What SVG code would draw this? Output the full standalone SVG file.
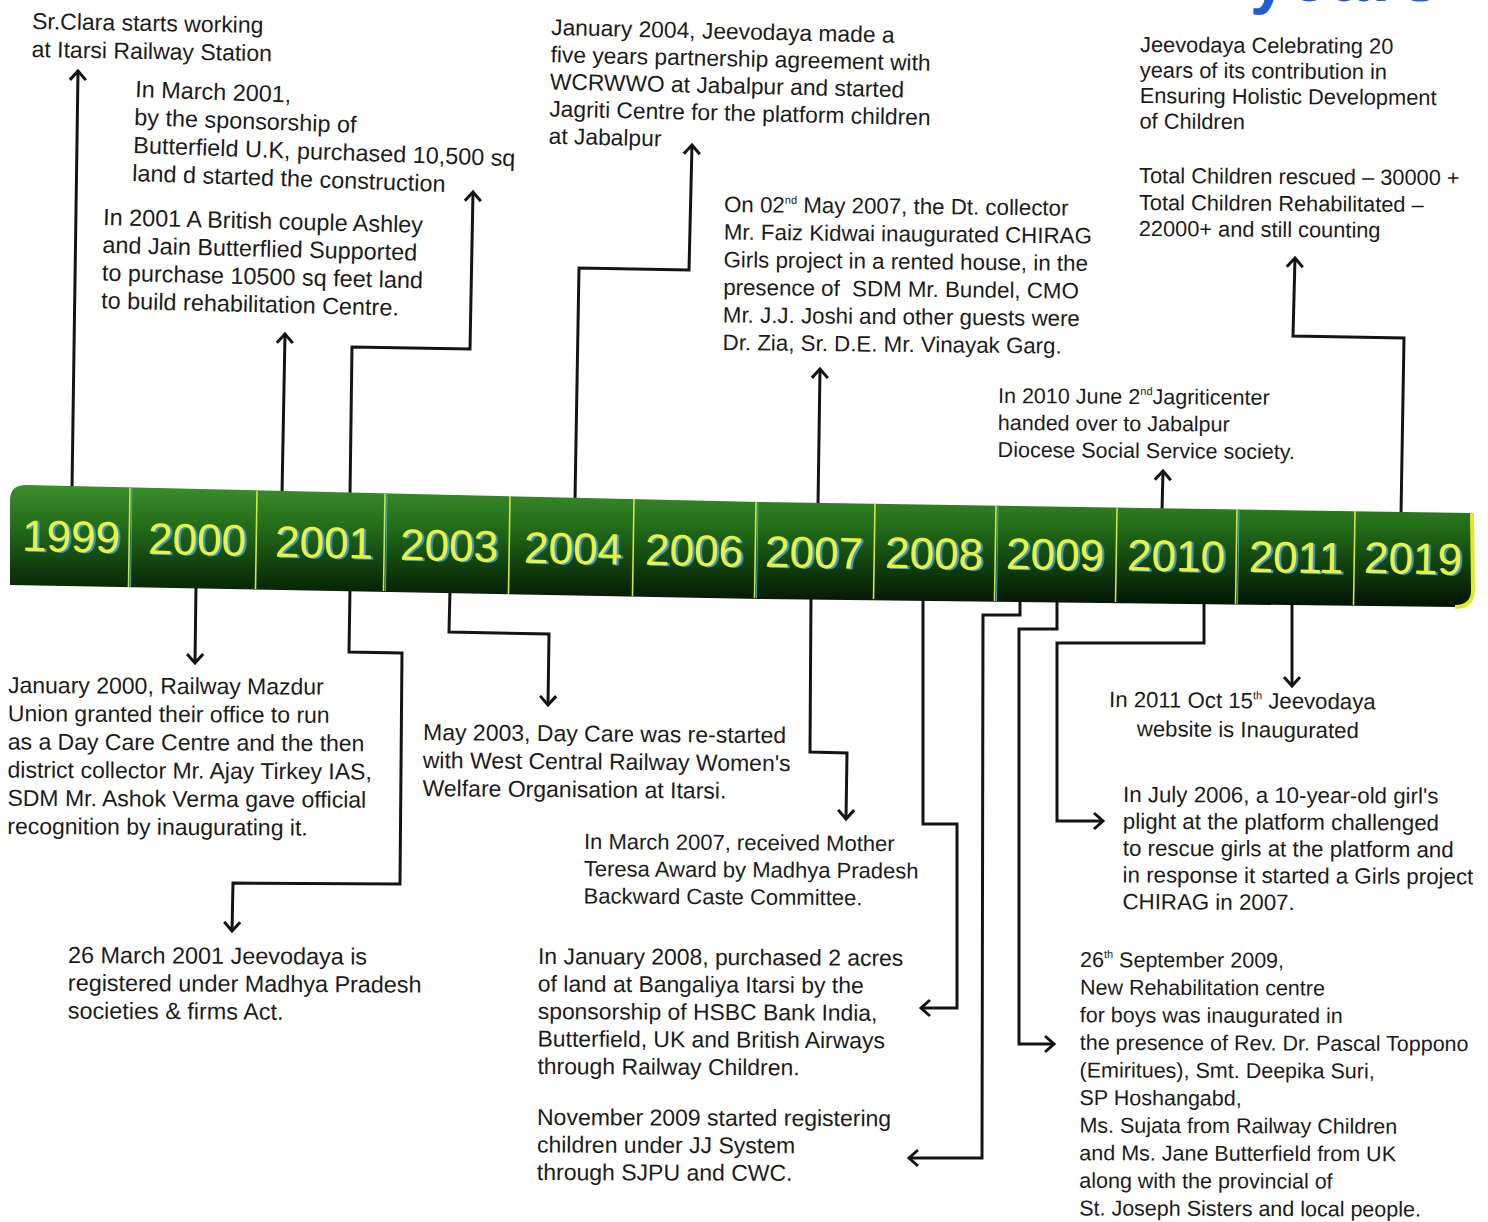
<svg xmlns="http://www.w3.org/2000/svg" width="1488" height="1222" viewBox="0 0 1488 1222">
<defs>
<style>
.t{font-family:"Liberation Sans",Arial,sans-serif;fill:#1b1b1b}
.yr{font-family:"Liberation Sans",Arial,sans-serif;font-size:44px;text-anchor:middle;fill:#f3f03a}
.yrs{font-family:"Liberation Sans",Arial,sans-serif;font-size:44px;text-anchor:middle;fill:#2b9ccf}
.ln{fill:none;stroke:#141414;stroke-width:3;stroke-linejoin:miter;marker-end:url(#ah)}
.dv{stroke:#d2e43e;stroke-width:1.6}
.dc{stroke:#3aa7c9;stroke-width:1}
</style>
<linearGradient id="barg" x1="0" y1="0" x2="0" y2="1">
<stop offset="0" stop-color="#3b8f2b"/>
<stop offset="0.35" stop-color="#236b19"/>
<stop offset="0.7" stop-color="#0e3b0b"/>
<stop offset="1" stop-color="#041204"/>
</linearGradient>
<marker id="ah" viewBox="-12 -10 15 20" refX="0" refY="0" markerWidth="15" markerHeight="20" markerUnits="userSpaceOnUse" orient="auto" overflow="visible">
<path d="M-9,-8 L0,0 L-9,8" fill="none" stroke="#141414" stroke-width="3"/>
</marker>
</defs>
<rect width="1488" height="1222" fill="#ffffff"/>

<g id="title-fragment">
<text x="1250" y="1" font-family="Liberation Sans, Arial, sans-serif" font-size="66" font-weight="bold" fill="#1f5fd6" letter-spacing="4">years</text>
</g>

<g id="connectors">
<path class="ln" d="M72,489 L78,71"/>
<path class="ln" d="M282,494 L285,334"/>
<path class="ln" d="M350,495 L352,347 L470,349 L473,192"/>
<path class="ln" d="M575,500 L579,268 L689,270 L692,145"/>
<path class="ln" d="M818,506 L820,369"/>
<path class="ln" d="M1162,511 L1163,471"/>
<path class="ln" d="M1401,515 L1404,338 L1293,336 L1295,258"/>
<path class="ln" d="M196,585 L195,663"/>
<path class="ln" d="M350,588 L349,652 L402,653 L400,884 L233,883 L232,931"/>
<path class="ln" d="M450,590 L449,632 L549,634 L548,705"/>
<path class="ln" d="M811,596 L810,752 L847,753 L846,819"/>
<path class="ln" d="M923,597 L923,824 L957,824 L957,1008 L921,1008"/>
<path class="ln" d="M1020,598 L1020,615 L983,615 L982,1158 L909,1158"/>
<path class="ln" d="M1057,599 L1057,629 L1019,629 L1019,1044 L1054,1044"/>
<path class="ln" d="M1204,601 L1204,643 L1057,643 L1057,821 L1103,821"/>
<path class="ln" d="M1292,602 L1292,686"/>
</g>

<g id="timeline-bar">
<path d="M10,500 Q10,485 26,485 L760,502 L1472,513 L1473,590 Q1473,607 1455,607 L760,599 L10,585 Z" fill="url(#barg)"/>
<path d="M1472,513 L1473,590 Q1473,607 1455,607" fill="none" stroke="#e6e826" stroke-width="4"/>
<line class="dv" x1="130" y1="488" x2="128.5" y2="587"/>
<line class="dv" x1="257" y1="491" x2="255.5" y2="589"/>
<line class="dv" x1="385" y1="494" x2="383.5" y2="591"/>
<line class="dv" x1="510" y1="496" x2="508.5" y2="594"/>
<line class="dv" x1="634" y1="499" x2="632.5" y2="596"/>
<line class="dv" x1="756" y1="502" x2="754.5" y2="598"/>
<line class="dv" x1="875" y1="504" x2="873.5" y2="599"/>
<line class="dv" x1="996" y1="506" x2="994.5" y2="601"/>
<line class="dv" x1="1117" y1="508" x2="1115.5" y2="602"/>
<line class="dv" x1="1237" y1="509" x2="1235.5" y2="604"/>
<line class="dv" x1="1355" y1="511" x2="1353.5" y2="605"/>
<line class="dc" x1="132" y1="488" x2="130.5" y2="587"/>
<line class="dc" x1="387" y1="494" x2="385.5" y2="591"/>
<line class="dc" x1="758" y1="502" x2="756.5" y2="598"/>
<line class="dc" x1="998" y1="506" x2="996.5" y2="601"/>
<line class="dc" x1="1239" y1="509" x2="1237.5" y2="604"/>
</g>

<g id="years">
<g transform="rotate(1.1 71 536)"><text class="yrs" x="73.5" y="552.7">1999</text><text class="yr" x="71" y="551.7">1999</text></g>
<g transform="rotate(1.1 197 539)"><text class="yrs" x="199.5" y="555.7">2000</text><text class="yr" x="197" y="554.7">2000</text></g>
<g transform="rotate(1.1 324 542)"><text class="yrs" x="326.5" y="558.7">2001</text><text class="yr" x="324" y="557.7">2001</text></g>
<g transform="rotate(1.1 449 545)"><text class="yrs" x="451.5" y="561.7">2003</text><text class="yr" x="449" y="560.7">2003</text></g>
<g transform="rotate(1.1 573 548)"><text class="yrs" x="575.5" y="564.7">2004</text><text class="yr" x="573" y="563.7">2004</text></g>
<g transform="rotate(1.1 694 550)"><text class="yrs" x="696.5" y="566.7">2006</text><text class="yr" x="694" y="565.7">2006</text></g>
<g transform="rotate(1.1 814 552)"><text class="yrs" x="816.5" y="568.7">2007</text><text class="yr" x="814" y="567.7">2007</text></g>
<g transform="rotate(1.1 934 553)"><text class="yrs" x="936.5" y="569.7">2008</text><text class="yr" x="934" y="568.7">2008</text></g>
<g transform="rotate(1.1 1055 554)"><text class="yrs" x="1057.5" y="570.7">2009</text><text class="yr" x="1055" y="569.7">2009</text></g>
<g transform="rotate(1.1 1176 555.5)"><text class="yrs" x="1178.5" y="572.2">2010</text><text class="yr" x="1176" y="571.2">2010</text></g>
<g transform="rotate(1.1 1296 557)"><text class="yrs" x="1298.5" y="573.7">2011</text><text class="yr" x="1296" y="572.7">2011</text></g>
<g transform="rotate(1.1 1413 558)"><text class="yrs" x="1415.5" y="574.7">2019</text><text class="yr" x="1413" y="573.7">2019</text></g>
</g>

<g id="n1999-clara" transform="translate(32 29) rotate(1)">
<text class="t" font-size="23"><tspan x="0" y="0">Sr.Clara starts working</tspan><tspan x="0" y="28">at Itarsi Railway Station</tspan></text>
</g>

<g id="n2001-march" transform="translate(135 97) rotate(2)">
<text class="t" font-size="23.4"><tspan x="0" y="0">In March 2001,</tspan><tspan x="0" y="28">by the sponsorship of</tspan><tspan x="0" y="56">Butterfield U.K, purchased 10,500 sq</tspan><tspan x="0" y="84">land d started the construction</tspan></text>
</g>

<g id="n2001-couple" transform="translate(103 225) rotate(1.4)">
<text class="t" font-size="23.4"><tspan x="0" y="0">In 2001 A British couple Ashley</tspan><tspan x="0" y="27.8">and Jain Butterflied Supported</tspan><tspan x="0" y="55.6">to purchase 10500 sq feet land</tspan><tspan x="0" y="83.4">to build rehabilitation Centre.</tspan></text>
</g>

<g id="n2004-jan" transform="translate(551 35) rotate(1.3)">
<text class="t" font-size="22.8"><tspan x="0" y="0">January 2004, Jeevodaya made a</tspan><tspan x="0" y="27.2">five years partnership agreement with</tspan><tspan x="0" y="54.4">WCRWWO at Jabalpur and started</tspan><tspan x="0" y="81.6">Jagriti Centre for the platform children</tspan><tspan x="0" y="108.8">at Jabalpur</tspan></text>
</g>

<g id="n2007-may" transform="translate(724 212) rotate(0.6)">
<text class="t" font-size="22.3"><tspan x="0" y="0">On 02</tspan><tspan dy="-9" font-size="11">nd</tspan><tspan dy="9"> May 2007, the Dt. collector</tspan><tspan x="0" y="27.6">Mr. Faiz Kidwai inaugurated CHIRAG</tspan><tspan x="0" y="55.2">Girls project in a rented house, in the</tspan><tspan x="0" y="82.8" xml:space="preserve">presence of  SDM Mr. Bundel, CMO</tspan><tspan x="0" y="110.4">Mr. J.J. Joshi and other guests were</tspan><tspan x="0" y="138">Dr. Zia, Sr. D.E. Mr. Vinayak Garg.</tspan></text>
</g>

<g id="n2019-celebrating" transform="translate(1140 52) rotate(0.4)">
<text class="t" font-size="21.8"><tspan x="0" y="0">Jeevodaya Celebrating 20</tspan><tspan x="0" y="25.5">years of its contribution in</tspan><tspan x="0" y="51">Ensuring Holistic Development</tspan><tspan x="0" y="76.5">of Children</tspan><tspan x="0" y="131">Total Children rescued – 30000 +</tspan><tspan x="0" y="158">Total Children Rehabilitated –</tspan><tspan x="0" y="184">22000+ and still counting</tspan></text>
</g>

<g id="n2010-june" transform="translate(998 403) rotate(0.4)">
<text class="t" font-size="21.5"><tspan x="0" y="0">In 2010 June 2</tspan><tspan dy="-9" font-size="11">nd</tspan><tspan dy="9">Jagriticenter</tspan><tspan x="0" y="27">handed over to Jabalpur</tspan><tspan x="0" y="54">Diocese Social Service society.</tspan></text>
</g>

<g id="n2000-jan" transform="translate(8 693) rotate(0.3)">
<text class="t" font-size="23"><tspan x="0" y="0">January 2000, Railway Mazdur</tspan><tspan x="0" y="28.2">Union granted their office to run</tspan><tspan x="0" y="56.4">as a Day Care Centre and the then</tspan><tspan x="0" y="84.6">district collector Mr. Ajay Tirkey IAS,</tspan><tspan x="0" y="112.8">SDM Mr. Ashok Verma gave official</tspan><tspan x="0" y="141">recognition by inaugurating it.</tspan></text>
</g>

<g id="n2001-registered" transform="translate(68 963) rotate(0.3)">
<text class="t" font-size="23.4"><tspan x="0" y="0">26 March 2001 Jeevodaya is</tspan><tspan x="0" y="27.8">registered under Madhya Pradesh</tspan><tspan x="0" y="55.6">societies &amp; firms Act.</tspan></text>
</g>

<g id="n2003-may" transform="translate(423 740) rotate(0.5)">
<text class="t" font-size="23"><tspan x="0" y="0">May 2003, Day Care was re-started</tspan><tspan x="0" y="28">with West Central Railway Women's</tspan><tspan x="0" y="56">Welfare Organisation at Itarsi.</tspan></text>
</g>

<g id="n2007-march" transform="translate(584 849) rotate(0.4)">
<text class="t" font-size="22"><tspan x="0" y="0">In March 2007, received Mother</tspan><tspan x="0" y="27.2">Teresa Award by Madhya Pradesh</tspan><tspan x="0" y="54.4">Backward Caste Committee.</tspan></text>
</g>

<g id="n2008-jan" transform="translate(538 964) rotate(0.3)">
<text class="t" font-size="22.9"><tspan x="0" y="0">In January 2008, purchased 2 acres</tspan><tspan x="0" y="27.5">of land at Bangaliya Itarsi by the</tspan><tspan x="0" y="55">sponsorship of HSBC Bank India,</tspan><tspan x="0" y="82.5">Butterfield, UK and British Airways</tspan><tspan x="0" y="110">through Railway Children.</tspan></text>
</g>

<g id="n2009-nov" transform="translate(537 1125) rotate(0.2)">
<text class="t" font-size="23"><tspan x="0" y="0">November 2009 started registering</tspan><tspan x="0" y="27.5">children under JJ System</tspan><tspan x="0" y="55">through SJPU and CWC.</tspan></text>
</g>

<g id="n2011-oct" transform="translate(1109 707) rotate(0.5)">
<text class="t" font-size="22.2"><tspan x="0" y="0">In 2011 Oct 15</tspan><tspan dy="-9" font-size="11">th</tspan><tspan dy="9"> Jeevodaya</tspan><tspan x="28" y="29">website is Inaugurated</tspan></text>
</g>

<g id="n2006-july" transform="translate(1123 802) rotate(0.3)">
<text class="t" font-size="22.3"><tspan x="0" y="0">In July 2006, a 10-year-old girl's</tspan><tspan x="0" y="26.8">plight at the platform challenged</tspan><tspan x="0" y="53.6">to rescue girls at the platform and</tspan><tspan x="0" y="80.4">in response it started a Girls project</tspan><tspan x="0" y="107.2">CHIRAG in 2007.</tspan></text>
</g>

<g id="n2009-sept" transform="translate(1080 967) rotate(0.2)">
<text class="t" font-size="21.5"><tspan x="0" y="0">26</tspan><tspan dy="-9" font-size="11">th</tspan><tspan dy="9"> September 2009,</tspan><tspan x="0" y="27.6">New Rehabilitation centre</tspan><tspan x="0" y="55.2">for boys was inaugurated in</tspan><tspan x="0" y="82.8">the presence of Rev. Dr. Pascal Toppono</tspan><tspan x="0" y="110.4">(Emiritues), Smt. Deepika Suri,</tspan><tspan x="0" y="138">SP Hoshangabd,</tspan><tspan x="0" y="165.6">Ms. Sujata from Railway Children</tspan><tspan x="0" y="193.2">and Ms. Jane Butterfield from UK</tspan><tspan x="0" y="220.8">along with the provincial of</tspan><tspan x="0" y="248.4">St. Joseph Sisters and local people.</tspan></text>
</g>
</svg>
